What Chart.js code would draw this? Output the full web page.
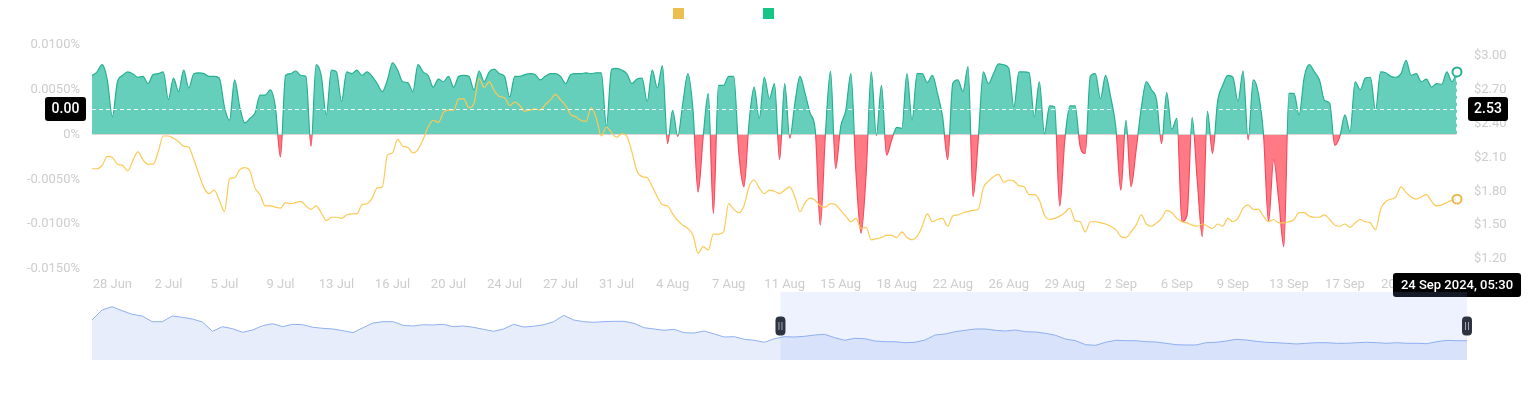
<!DOCTYPE html>
<html>
<head>
<meta charset="utf-8">
<script src="https://cdn.jsdelivr.net/npm/chart.js@4.4.1/dist/chart.umd.min.js"></script>
<style>
  html, body { margin: 0; padding: 0; background: #fff; }
  #wrap { position: relative; width: 1530px; height: 393px; overflow: hidden; }
  #main { position: absolute; left: 0; top: 0; }
  #nav  { position: absolute; left: 82px; top: 292px; }
</style>
</head>
<body>
<div id="wrap">
  <canvas id="main" width="1530" height="393" style="width:1530px;height:393px"></canvas>
  <canvas id="nav" width="1395" height="68" style="width:1395px;height:68px"></canvas>
</div>
<script>
// ── Data ─────────────────────────────────────────────────
// 8-hourly funding rate (%) and price ($), 26 Jun 2024 21:30 → 24 Sep 2024 05:30 (IST)
const START_MS = Date.UTC(2024, 5, 26, 16, 0);   // first funding time (UTC)
const STEP_HOURS = 8;

const fundingRate = [
  0.0066, 0.0070, 0.0078, 0.0061, 0.0020, 0.0059, 0.0066, 0.0070, 0.0068, 0.0064,
  0.0065, 0.0057, 0.0067, 0.0068, 0.0070, 0.0039, 0.0063, 0.0048, 0.0072, 0.0052,
  0.0068, 0.0069, 0.0068, 0.0065, 0.0065, 0.0063, 0.0031, 0.0016, 0.0061, 0.0031,
  0.0013, 0.0018, 0.0024, 0.0044, 0.0044, 0.0050, 0.0031, -0.0025, 0.0066, 0.0068,
  0.0071, 0.0066, 0.0065, -0.0013, 0.0078, 0.0066, 0.0022, 0.0072, 0.0070, 0.0037,
  0.0070, 0.0068, 0.0072, 0.0066, 0.0070, 0.0065, 0.0057, 0.0048, 0.0061, 0.0080,
  0.0072, 0.0059, 0.0058, 0.0048, 0.0078, 0.0070, 0.0066, 0.0053,
  0.0062, 0.0059, 0.0065, 0.0053, 0.0065, 0.0066, 0.0065, 0.0050, 0.0071, 0.0059,
  0.0070, 0.0073, 0.0068, 0.0065, 0.0042, 0.0065, 0.0065, 0.0067, 0.0068, 0.0067,
  0.0061, 0.0065, 0.0068, 0.0068, 0.0065, 0.0057, 0.0067, 0.0068, 0.0068, 0.0069,
  0.0068, 0.0069, 0.0069, 0.0009, 0.0073, 0.0074, 0.0072, 0.0068, 0.0057, 0.0062,
  0.0063, 0.0037, 0.0072, 0.0052, 0.0077, -0.0010, 0.0027, -0.0002, 0.0035, 0.0068,
  0.0027, -0.0064, -0.0002, 0.0046, -0.0088, 0.0055, 0.0055, 0.0065, 0.0065, -0.0021,
  -0.0058, 0.0013, 0.0053, 0.0018, 0.0064, 0.0040, 0.0057,
  -0.0028, 0.0057, -0.0004, 0.0035, 0.0065, 0.0046, 0.0024, 0.0005, -0.0101, 0.0001,
  0.0071, -0.0038, 0.0009, 0.0027, 0.0068, -0.0043, -0.0110, -0.0043, 0.0070, -0.0001,
  0.0055, -0.0023, -0.0006, 0.0008, 0.0007, 0.0068, 0.0016, 0.0068, 0.0068, 0.0058,
  0.0066, 0.0046, 0.0020, -0.0028, 0.0057, 0.0061, 0.0048, 0.0076, -0.0069, -0.0006,
  0.0070, 0.0057, 0.0068, 0.0079, 0.0078, 0.0074, 0.0031, 0.0070, 0.0070, 0.0069,
  0.0020, 0.0059, 0.0001, 0.0032, 0.0031, -0.0080, -0.0006, 0.0032, 0.0032, -0.0013,
  -0.0021, 0.0065, 0.0068, 0.0040, 0.0066, 0.0042, 0.0009, -0.0062,
  0.0016, -0.0058, -0.0017, 0.0029, 0.0059, 0.0050, 0.0039, -0.0010, 0.0047, 0.0006,
  0.0018, -0.0097, -0.0090, 0.0019, -0.0051, -0.0114, 0.0026, -0.0021, 0.0037, 0.0055,
  0.0066, 0.0064, 0.0037, 0.0071, -0.0006, 0.0061, 0.0046, 0.0001, -0.0097, -0.0028,
  -0.0073, -0.0125, 0.0046, 0.0046, 0.0022, 0.0064, 0.0078, 0.0070, 0.0061, 0.0038,
  0.0035, -0.0012, -0.0002, 0.0022, 0.0003, 0.0059, 0.0050, 0.0063, 0.0064, 0.0027,
  0.0070, 0.0069, 0.0065, 0.0064, 0.0068, 0.0083, 0.0066, 0.0068, 0.0059, 0.0062,
  0.0053, 0.0057, 0.0056, 0.0070, 0.0059, 0.0070,
];

const price = [
  2.00, 2.00, 2.03, 2.11, 2.10, 2.04, 2.03, 1.98, 2.07, 2.15,
  2.08, 2.04, 2.04, 2.15, 2.29, 2.29, 2.27, 2.24, 2.20, 2.19,
  2.08, 1.95, 1.83, 1.78, 1.81, 1.72, 1.62, 1.91, 1.92, 1.99,
  2.01, 1.98, 1.83, 1.77, 1.67, 1.67, 1.66, 1.65, 1.70, 1.69,
  1.70, 1.71, 1.67, 1.64, 1.67, 1.61, 1.54, 1.57, 1.57, 1.56,
  1.59, 1.60, 1.60, 1.68, 1.69, 1.74, 1.83, 1.84, 2.12, 2.14,
  2.26, 2.20, 2.19, 2.14, 2.17, 2.26, 2.37, 2.43,
  2.41, 2.50, 2.52, 2.52, 2.62, 2.62, 2.54, 2.58, 2.80, 2.72,
  2.77, 2.69, 2.64, 2.63, 2.56, 2.59, 2.56, 2.51, 2.52, 2.53,
  2.52, 2.57, 2.61, 2.66, 2.61, 2.56, 2.48, 2.46, 2.43, 2.42,
  2.54, 2.45, 2.29, 2.37, 2.32, 2.28, 2.31, 2.29, 2.15, 1.98,
  1.93, 1.92, 1.84, 1.75, 1.68, 1.67, 1.60, 1.54, 1.50, 1.47,
  1.41, 1.25, 1.31, 1.28, 1.42, 1.42, 1.44, 1.69, 1.64, 1.61,
  1.67, 1.84, 1.90, 1.83, 1.78, 1.81, 1.80,
  1.78, 1.81, 1.84, 1.75, 1.62, 1.70, 1.74, 1.72, 1.67, 1.66,
  1.69, 1.68, 1.63, 1.58, 1.53, 1.56, 1.47, 1.48, 1.37, 1.38,
  1.39, 1.41, 1.41, 1.39, 1.44, 1.39, 1.37, 1.40, 1.49, 1.60,
  1.53, 1.55, 1.56, 1.49, 1.58, 1.59, 1.61, 1.62, 1.63, 1.64,
  1.83, 1.89, 1.93, 1.95, 1.88, 1.90, 1.89, 1.85, 1.84, 1.77,
  1.77, 1.72, 1.59, 1.55, 1.56, 1.58, 1.61, 1.65, 1.54, 1.53,
  1.44, 1.53, 1.53, 1.52, 1.51, 1.49, 1.46, 1.40,
  1.39, 1.44, 1.50, 1.59, 1.51, 1.49, 1.52, 1.56, 1.63, 1.61,
  1.56, 1.53, 1.52, 1.50, 1.49, 1.51, 1.49, 1.47, 1.51, 1.49,
  1.56, 1.53, 1.56, 1.65, 1.68, 1.64, 1.64, 1.58, 1.53, 1.55,
  1.52, 1.52, 1.53, 1.55, 1.61, 1.61, 1.58, 1.57, 1.57, 1.59,
  1.55, 1.50, 1.49, 1.51, 1.48, 1.52, 1.55, 1.53, 1.52, 1.46,
  1.64, 1.71, 1.73, 1.75, 1.84, 1.79, 1.75, 1.73, 1.75, 1.77,
  1.71, 1.67, 1.68, 1.70, 1.72, 1.73,
];

// x-axis tick labels: one every 11 points, first at point 4
const dayTicks = [
  '28 Jun', '2 Jul', '5 Jul', '9 Jul', '13 Jul', '16 Jul', '20 Jul', '24 Jul', '27 Jul',
  '31 Jul', '4 Aug', '7 Aug', '11 Aug', '15 Aug', '18 Aug', '22 Aug', '26 Aug', '29 Aug',
  '2 Sep', '6 Sep', '9 Sep', '13 Sep', '17 Sep', '20 Sep', '24 Sep',
];
const TICK_FIRST = 4, TICK_EVERY = 11;

// left / right axis ticks
const rateTicks  = [-0.015, -0.010, -0.005, 0, 0.005, 0.010];
const priceTicks = [1.20, 1.50, 1.80, 2.10, 2.40, 2.70, 3.00];

// overview (data-zoom) strip: full price history, selected window as fractions
const navValues = [
  4.00, 5.00, 5.33, 4.93, 4.57, 4.40, 3.83, 3.83, 4.40, 4.27,
  4.10, 3.80, 2.87, 3.33, 3.13, 2.77, 3.00, 3.43, 3.63, 3.33,
  3.57, 3.53, 3.27, 3.17, 3.10, 2.93, 2.73, 3.23, 3.70, 3.83,
  3.83, 3.47, 3.40, 3.53, 3.50, 3.57, 3.33, 3.40, 3.27, 3.07,
  2.87, 3.10, 3.57, 3.30, 3.37, 3.53, 3.83, 4.47, 4.00, 3.83,
  3.77, 3.83, 3.87, 3.87, 3.67, 3.23, 3.10, 2.97, 3.07, 2.73,
  2.70, 2.90, 2.60, 2.30, 2.33, 2.07, 1.97, 1.77, 2.13,
  2.33, 2.30, 2.37, 2.50, 2.57, 2.23, 1.97, 2.17, 2.13, 1.90,
  1.83, 1.83, 1.73, 1.77, 2.00, 2.50, 2.60, 2.83, 2.97, 3.10,
  3.10, 2.97, 2.90, 3.00, 2.83, 2.80, 2.67, 2.47, 2.10, 1.93,
  1.53, 1.47, 1.77, 1.97, 1.93, 1.93, 1.83, 1.80, 1.67, 1.53,
  1.50, 1.50, 1.73, 1.77, 1.90, 2.07, 2.00, 1.87, 1.77, 1.73,
  1.67, 1.60, 1.67, 1.73, 1.73, 1.67, 1.67, 1.73, 1.77, 1.73,
  1.67, 1.73, 1.67, 1.67, 1.63, 1.83, 1.97, 1.93, 1.93,
];
const navWindow = [0.5007, 1.0];

// crosshair state shown in the picture
const pointerPrice = 2.53;

// ── Styles ───────────────────────────────────────────────
const GREEN_LINE = '#25b08f';
const GREEN_FILL = '#65cfbc';
const RED_LINE   = '#f54a5c';
const RED_FILL   = '#ff7a85';
const YELLOW     = '#fcc955';
const AXIS_TEXT  = '#cdcdcd';
const MONTHS = ['Jan','Feb','Mar','Apr','May','Jun','Jul','Aug','Sep','Oct','Nov','Dec'];

Chart.defaults.font.family = 'Roboto, "Noto Sans", sans-serif';
Chart.defaults.font.size = 13;

// funding times, shown in IST (UTC+5:30)
const times = fundingRate.map((_, i) => new Date(START_MS + i * STEP_HOURS * 3600e3 + 5.5 * 3600e3));
const pad2 = n => String(n).padStart(2, '0');
const longLabel = d => `${d.getUTCDate()} ${MONTHS[d.getUTCMonth()]} ${d.getUTCFullYear()}, ${pad2(d.getUTCHours())}:${pad2(d.getUTCMinutes())}`;
const LAST = fundingRate.length - 1;

// green above zero, red below, for the funding stroke
function zeroSplit(chart) {
  const area = chart.chartArea;
  if (!area) return GREEN_LINE;
  const zy = chart.scales.y.getPixelForValue(0);
  const f = Math.min(1, Math.max(0, (zy - area.top) / (area.bottom - area.top)));
  const g = chart.ctx.createLinearGradient(0, area.top, 0, area.bottom);
  g.addColorStop(0, GREEN_LINE); g.addColorStop(f, GREEN_LINE);
  g.addColorStop(f, RED_LINE);   g.addColorStop(1, RED_LINE);
  return g;
}

function roundBox(ctx, x, y, w, h, r, fill) {
  ctx.beginPath();
  ctx.roundRect(x, y, w, h, r);
  ctx.fillStyle = fill;
  ctx.fill();
}

// ── Legend squares (no text in the reference) ────────────
const legendSquares = {
  id: 'legendSquares',
  afterDraw(chart) {
    const ctx = chart.ctx;
    [[673, '#ecbd50'], [763, '#17c685']].forEach(([x, c]) => {
      ctx.save();
      ctx.fillStyle = c;
      ctx.fillRect(x, 8, 11, 11);
      ctx.restore();
    });
  },
};

// ── Crosshair + axis pointer labels ──────────────────────
const crosshair = {
  id: 'crosshair',
  afterDatasetsDraw(chart) {
    const { ctx, chartArea: a, scales: { x, y, y1 } } = chart;
    const px = x.getPixelForValue(LAST);
    const py = Math.round(y1.getPixelForValue(pointerPrice)) + 0.5;
    const fy = y.getPixelForValue(fundingRate[LAST]);
    ctx.save();
    ctx.strokeStyle = 'rgba(255,255,255,0.9)';
    ctx.lineWidth = 1;
    ctx.setLineDash([4, 3]);
    ctx.beginPath();
    ctx.moveTo(a.left, py); ctx.lineTo(a.right, py);
    ctx.moveTo(Math.round(px) - 0.5, fy + 6); ctx.lineTo(Math.round(px) - 0.5, a.bottom);
    ctx.stroke();
    ctx.restore();
  },
  afterDraw(chart) {
    const { ctx, chartArea: a, scales: { x, y, y1 } } = chart;
    const px = x.getPixelForValue(LAST);
    const py = y1.getPixelForValue(pointerPrice);
    ctx.save();
    ctx.textAlign = 'center';
    ctx.textBaseline = 'middle';

    ctx.font = '500 14px Roboto, sans-serif';
    const leftTxt = y.getValueForPixel(py).toFixed(2);
    roundBox(ctx, a.left - 47, py - 12, 41, 24, 3, '#000');
    ctx.fillStyle = '#fff';
    ctx.fillText(leftTxt, a.left - 26.5, py + 0.5);

    const rightTxt = y1.getValueForPixel(py).toFixed(2);
    roundBox(ctx, a.right + 11, py - 12, 40, 24, 3, '#000');
    ctx.fillStyle = '#fff';
    ctx.fillText(rightTxt, a.right + 31, py + 0.5);

    ctx.font = '500 13px Roboto, sans-serif';
    const dateTxt = longLabel(times[LAST]);
    const w = ctx.measureText(dateTxt).width + 16;
    roundBox(ctx, px - w / 2, a.bottom + 4, w, 24, 3, '#000');
    ctx.fillStyle = '#fff';
    ctx.fillText(dateTxt, px, a.bottom + 16.5);
    ctx.restore();
  },
};

// ── Main chart ───────────────────────────────────────────
new Chart(document.getElementById('main'), {
  type: 'line',
  data: {
    labels: times.map(longLabel),
    datasets: [
      {
        label: 'Price',
        data: price,
        yAxisID: 'y1',
        borderColor: YELLOW,
        borderWidth: 1.2,
        cubicInterpolationMode: 'monotone',
        fill: false,
        pointRadius: ctx => ctx.dataIndex === LAST ? 4.5 : 0,
        pointBorderWidth: 2,
        pointBorderColor: '#eab84a',
        pointBackgroundColor: 'rgba(255,255,255,0.5)',
        clip: 8,
      },
      {
        label: 'Funding Rate',
        data: fundingRate,
        yAxisID: 'y',
        borderColor: ctx => zeroSplit(ctx.chart),
        borderWidth: 1.2,
        cubicInterpolationMode: 'monotone',
        fill: { target: 'origin', above: GREEN_FILL, below: RED_FILL },
        pointRadius: ctx => ctx.dataIndex === LAST ? 4.5 : 0,
        pointBorderWidth: 2,
        pointBorderColor: GREEN_LINE,
        pointBackgroundColor: '#fff',
        clip: 8,
      },
    ],
  },
  options: {
    responsive: false,
    animation: false,
    events: [],
    layout: { padding: { top: 45, left: 0, right: 0, bottom: 0 } },
    plugins: { legend: { display: false }, tooltip: { enabled: false } },
    scales: {
      x: {
        type: 'category',
        grid: { display: false, drawTicks: false },
        border: { display: false },
        ticks: {
          autoSkip: false, maxRotation: 0, color: AXIS_TEXT, padding: 8,
          callback: (v, i) => (i - TICK_FIRST) % TICK_EVERY === 0 && i >= TICK_FIRST
            ? dayTicks[(i - TICK_FIRST) / TICK_EVERY] : null,
        },
        afterFit: s => { s.height = 124; },
      },
      y: {
        position: 'left',
        min: -0.015, max: 0.010,
        grid: { display: false, drawTicks: false },
        border: { display: false },
        afterBuildTicks: s => { s.ticks = rateTicks.map(v => ({ value: v })); },
        ticks: {
          color: AXIS_TEXT, padding: 12,
          callback: v => Math.abs(v) < 1e-9 ? '0%' : v.toFixed(4) + '%',
        },
        afterFit: s => { s.width = 92; },
      },
      y1: {
        position: 'right',
        min: 1.111, max: 3.097,
        grid: { display: false, drawTicks: false },
        border: { display: false },
        afterBuildTicks: s => { s.ticks = priceTicks.map(v => ({ value: v })); },
        ticks: { color: AXIS_TEXT, padding: 17, callback: v => '$' + v.toFixed(2) },
        afterFit: s => { s.width = 73; },
      },
    },
  },
  plugins: [legendSquares, crosshair],
});

// ── Overview strip ───────────────────────────────────────
const navOverlay = {
  id: 'navOverlay',
  afterDatasetsDraw(chart) {
    const { ctx, chartArea: a } = chart;
    const x0 = a.left + navWindow[0] * (a.right - a.left);
    const x1 = a.left + navWindow[1] * (a.right - a.left);
    ctx.save();
    ctx.fillStyle = 'rgba(135,170,245,0.15)';
    ctx.fillRect(x0, a.top, x1 - x0, a.bottom - a.top);
    const mid = (a.top + a.bottom) / 2;
    [x0, x1].forEach(hx => {
      roundBox(ctx, hx - 5, mid - 9.5, 10, 19, 4, '#2e3342');
      ctx.strokeStyle = '#a0a6b4';
      ctx.lineWidth = 1;
      ctx.beginPath();
      ctx.moveTo(hx - 1.5, mid - 4); ctx.lineTo(hx - 1.5, mid + 4);
      ctx.moveTo(hx + 1.5, mid - 4); ctx.lineTo(hx + 1.5, mid + 4);
      ctx.stroke();
    });
    ctx.restore();
  },
};

new Chart(document.getElementById('nav'), {
  type: 'line',
  data: {
    labels: navValues.map((_, i) => i),
    datasets: [{
      data: navValues,
      borderColor: '#8fb0ef',
      borderWidth: 1,
      backgroundColor: '#e7edfb',
      fill: 'origin',
      pointRadius: 0,
      tension: 0,
    }],
  },
  options: {
    responsive: false,
    animation: false,
    events: [],
    layout: { padding: { left: 10, right: 10, top: 0, bottom: 0 } },
    plugins: { legend: { display: false }, tooltip: { enabled: false } },
    scales: {
      x: { display: false },
      y: { display: false, min: 0, max: 6.8 },
    },
  },
  plugins: [navOverlay],
});
</script>
</body>
</html>
